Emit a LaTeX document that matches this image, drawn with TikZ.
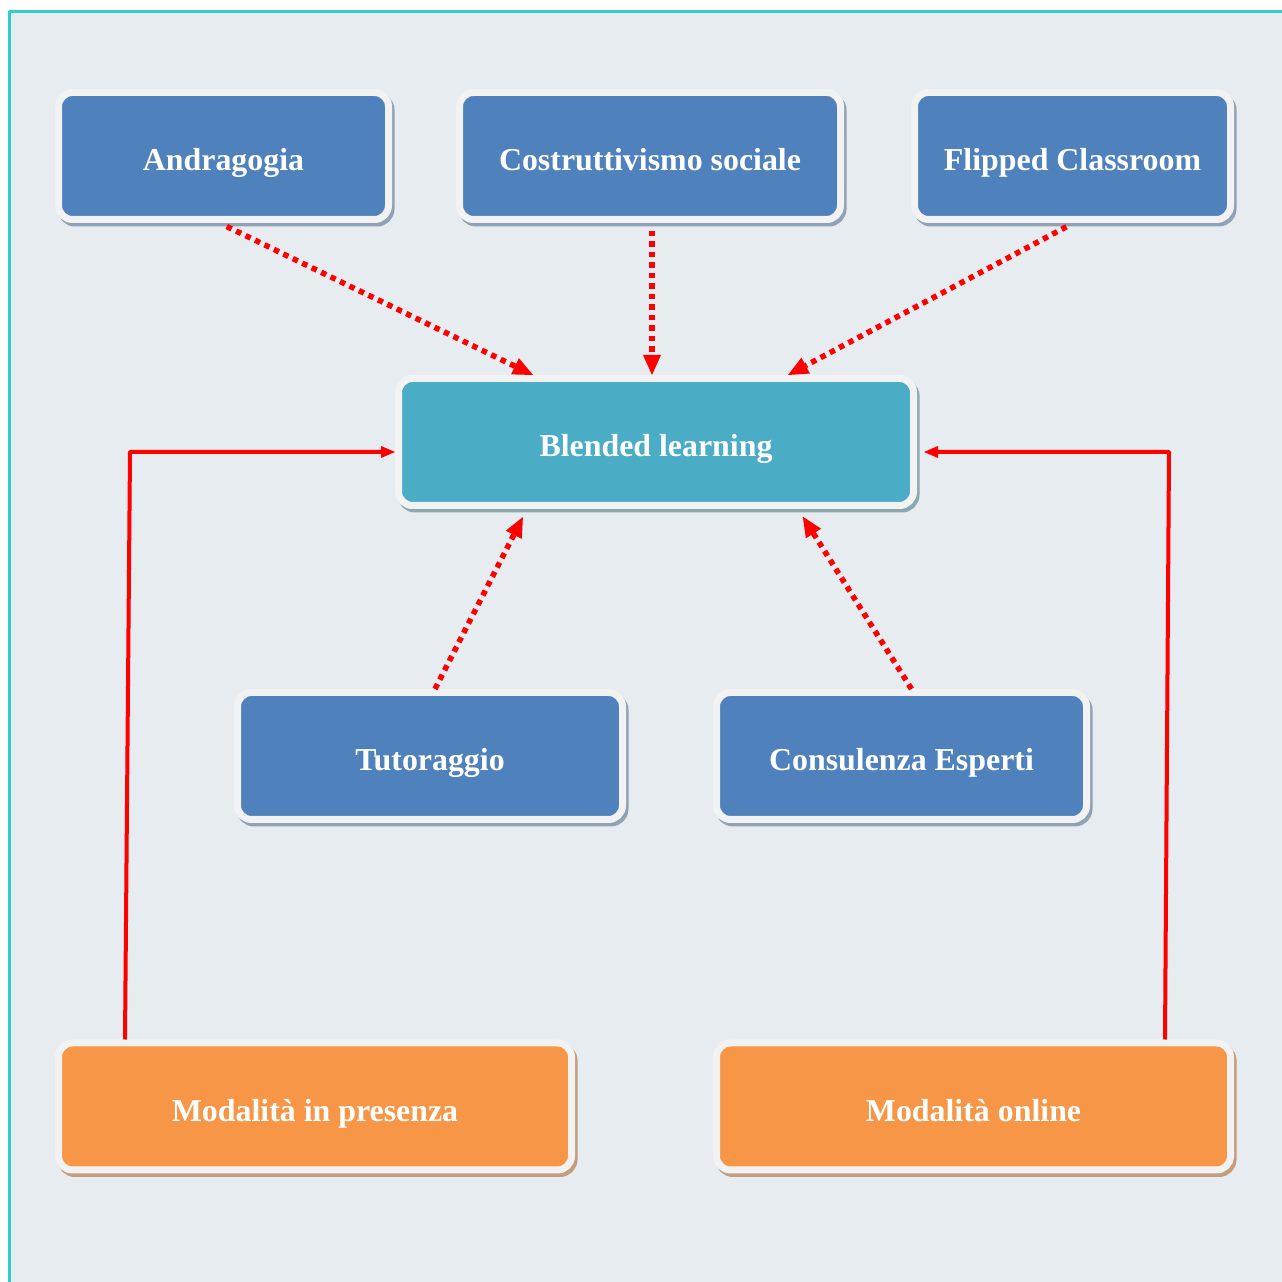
\documentclass[tikz,border=0pt]{standalone}
\usepackage{fontspec}
\setmainfont{Liberation Serif}
\usetikzlibrary{arrows.meta}
\usetikzlibrary{shadows, calc}
\definecolor{boxblue}{HTML}{4F81BD}
\definecolor{boxcyan}{HTML}{4BACC6}
\definecolor{boxorange}{HTML}{F79646}
\definecolor{rimwhite}{HTML}{F2F2F2}
\definecolor{shblue}{HTML}{8FA2B6}
\definecolor{shcyan}{HTML}{8AA8B2}
\definecolor{shorange}{HTML}{C59C7C}
\definecolor{bgpanel}{HTML}{E6ECEF}
\definecolor{frameteal}{HTML}{33CCCC}
\begin{document}
\begin{tikzpicture}[>=latex,line join=bevel,
  card/.style={draw=rimwhite,line width=7bp,rounded corners=14bp,
    minimum height=127bp,text=white,text height=36bp,text depth=6bp,
    font=\bfseries\fontsize{32}{36}\selectfont},
  cardblue/.style={card,fill=boxblue,
    drop shadow={shadow xshift=2.5bp,shadow yshift=-3.5bp,fill=shblue,draw=shblue,opacity=1}},
  cardcyan/.style={card,fill=boxcyan,
    drop shadow={shadow xshift=2.5bp,shadow yshift=-3.5bp,fill=shcyan,draw=shcyan,opacity=1}},
  cardorange/.style={card,fill=boxorange,
    drop shadow={shadow xshift=2.5bp,shadow yshift=-3.5bp,fill=shorange,draw=shorange,opacity=1}},
  dotlink/.style={red,line width=5.5bp,dash pattern=on 5.5bp off 5bp,
    -{Triangle[length=20bp,width=18bp,line width=0pt]}},
  solidlink/.style={red,line width=4bp,
    -{Triangle[length=14bp,width=12bp,line width=0pt]}},
]
\useasboundingbox (0bp,0bp) rectangle (1282bp,1282bp);
%% panel
\fill[white] (0bp,0bp) rectangle (1282bp,1282bp);
\draw[frameteal,line width=3bp,fill=bgpanel] (9bp,-20bp) rectangle (1300bp,1270bp);
%%
\node (node_andragogia) at (223.5bp,1126bp) [cardblue,minimum width=330bp] {Andragogia};
  \node (node_costrutt) at (650bp,1126bp) [cardblue,minimum width=381bp] {Costruttivismo sociale};
  \node (node_flipped) at (1072.5bp,1126bp) [cardblue,minimum width=316bp] {Flipped Classroom};
  \node (node_blended) at (656bp,840bp) [cardcyan,minimum width=515bp] {Blended learning};
  \node (node_tutor) at (430bp,526bp) [cardblue,minimum width=385bp] {Tutoraggio};
  \node (node_consul) at (901.5bp,526bp) [cardblue,minimum width=370bp] {Consulenza Esperti};
  \node (node_presenza) at (315bp,175.5bp) [cardorange,minimum width=513bp] {Modalità in presenza};
  \node (node_online) at (973.5bp,175.5bp) [cardorange,minimum width=514bp] {Modalità online};
  \coordinate (corner_l) at (130bp,830bp);
  \coordinate (corner_r) at (1169bp,830bp);
  \draw [dotlink,shorten <=8bp] ($(node_andragogia.south)+(-4bp,0)$) -- ($(node_blended.north)+(-123bp,0)$);
  \draw [dotlink,shorten <=8bp] ($(node_costrutt.south)+(2bp,0)$) -- ($(node_blended.north)+(-4bp,0)$);
  \draw [dotlink,shorten <=8bp] ($(node_flipped.south)+(1bp,0)$) -- ($(node_blended.north)+(132bp,0)$);
  \draw [dotlink,shorten >=9bp] ($(node_tutor.north)+(5bp,0)$) -- ($(node_blended.south)+(-129bp,0)$);
  \draw [dotlink,shorten >=9bp] ($(node_consul.north)+(10bp,0)$) -- ($(node_blended.south)+(142bp,0)$);
  \draw [solidlink] ($(node_presenza.north)+(-190bp,0)$) -- (corner_l) -- ($(node_blended.west)+(0,-10bp)$);
  \draw [solidlink,shorten >=7bp] ($(node_online.north)+(191.5bp,0)$) -- (corner_r) -- ($(node_blended.east)+(0,-10bp)$);
%
\end{tikzpicture}
\end{document}
